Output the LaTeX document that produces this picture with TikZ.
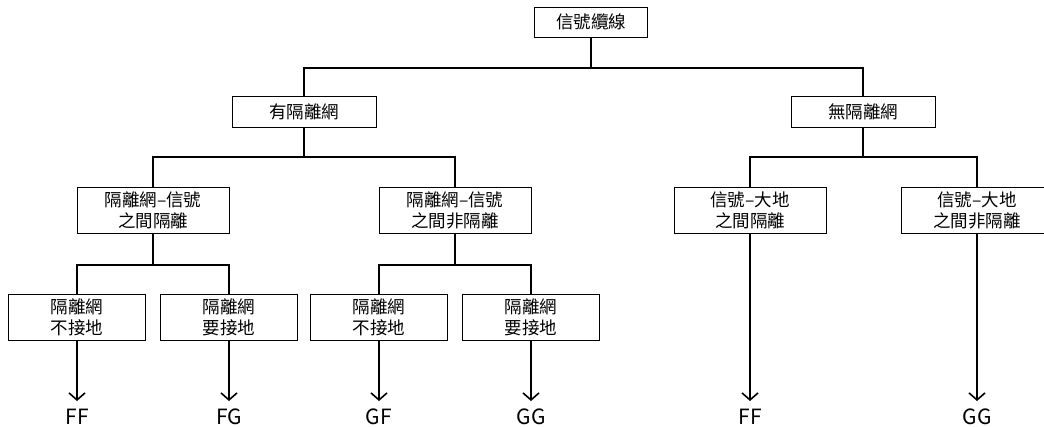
\documentclass[tikz,border=0pt]{standalone}
\usepackage{fontspec}
\setmainfont{Noto Sans CJK TC}
\usetikzlibrary{arrows.meta}
\tikzset{
  box/.style={draw,line width=0.8pt,align=center,inner sep=0pt,
    font=\fontsize{17.5}{21}\selectfont},
  topbox/.style={box,minimum width=113pt,minimum height=30pt},
  midbox/.style={box,minimum width=144pt,minimum height=31pt},
  twobox/.style={box,minimum width=152pt,minimum height=46pt},
  lowbox/.style={box,minimum width=137pt,minimum height=46pt},
  tree/.style={line width=2.2pt},
  arr/.style={line width=2pt,-{Straight Barb[length=7pt,width=16pt,line width=1.6pt]},shorten >=8pt},
  leaf/.style={anchor=north,inner sep=0pt,font=\fontsize{21}{24}\selectfont},
}
\begin{document}
\begin{tikzpicture}[line cap=butt,line join=miter,x=1pt,y=-1pt]
\useasboundingbox (0,0) rectangle (1044,426);
% boxes
\node[topbox] (root) at (591,22) {信號纜線};
\node[midbox] (yes) at (304,112) {有隔離網};
\node[midbox] (no) at (863,112) {無隔離網};
\node[twobox] (ya) at (153,210) {隔離網–信號\\之間隔離};
\node[twobox] (yb) at (455,210) {隔離網–信號\\之間非隔離};
\node[twobox] (na) at (750,210) {信號–大地\\之間隔離};
\node[twobox] (nb) at (977,210) {信號–大地\\之間非隔離};
\node[lowbox] (yaa) at (77,317) {隔離網\\不接地};
\node[lowbox] (yab) at (229,317) {隔離網\\要接地};
\node[lowbox] (yba) at (379,317) {隔離網\\不接地};
\node[lowbox] (ybb) at (531,317) {隔離網\\要接地};
% results
\node[leaf] (ff1) at (77,409) {FF};
\node[leaf] (fg) at (229,409) {FG};
\node[leaf] (gf) at (379,409) {GF};
\node[leaf] (gg1) at (531,409) {GG};
\node[leaf] (ff2) at (750,409) {FF};
\node[leaf] (gg2) at (977,409) {GG};
% tree lines
\coordinate (j0) at (591,68);
\coordinate (j1) at (304,157);
\coordinate (j2) at (863,157);
\coordinate (j3) at (153,265);
\coordinate (j4) at (455,265);
\draw[tree] (root.south) -- (j0);
\draw[tree] (yes.north) |- (j0) -| (no.north);
\draw[tree] (yes.south) -- (j1);
\draw[tree] (ya.north) |- (j1) -| (yb.north);
\draw[tree] (no.south) -- (j2);
\draw[tree] (na.north) |- (j2) -| (nb.north);
\draw[tree] (ya.south) -- (j3);
\draw[tree] (yaa.north) |- (j3) -| (yab.north);
\draw[tree] (yb.south) -- (j4);
\draw[tree] (yba.north) |- (j4) -| (ybb.north);
% arrows
\draw[arr] (yaa.south) -- (ff1.north);
\draw[arr] (yab.south) -- (fg.north);
\draw[arr] (yba.south) -- (gf.north);
\draw[arr] (ybb.south) -- (gg1.north);
\draw[arr] (na.south) -- (ff2.north);
\draw[arr] (nb.south) -- (gg2.north);
\end{tikzpicture}
\end{document}
